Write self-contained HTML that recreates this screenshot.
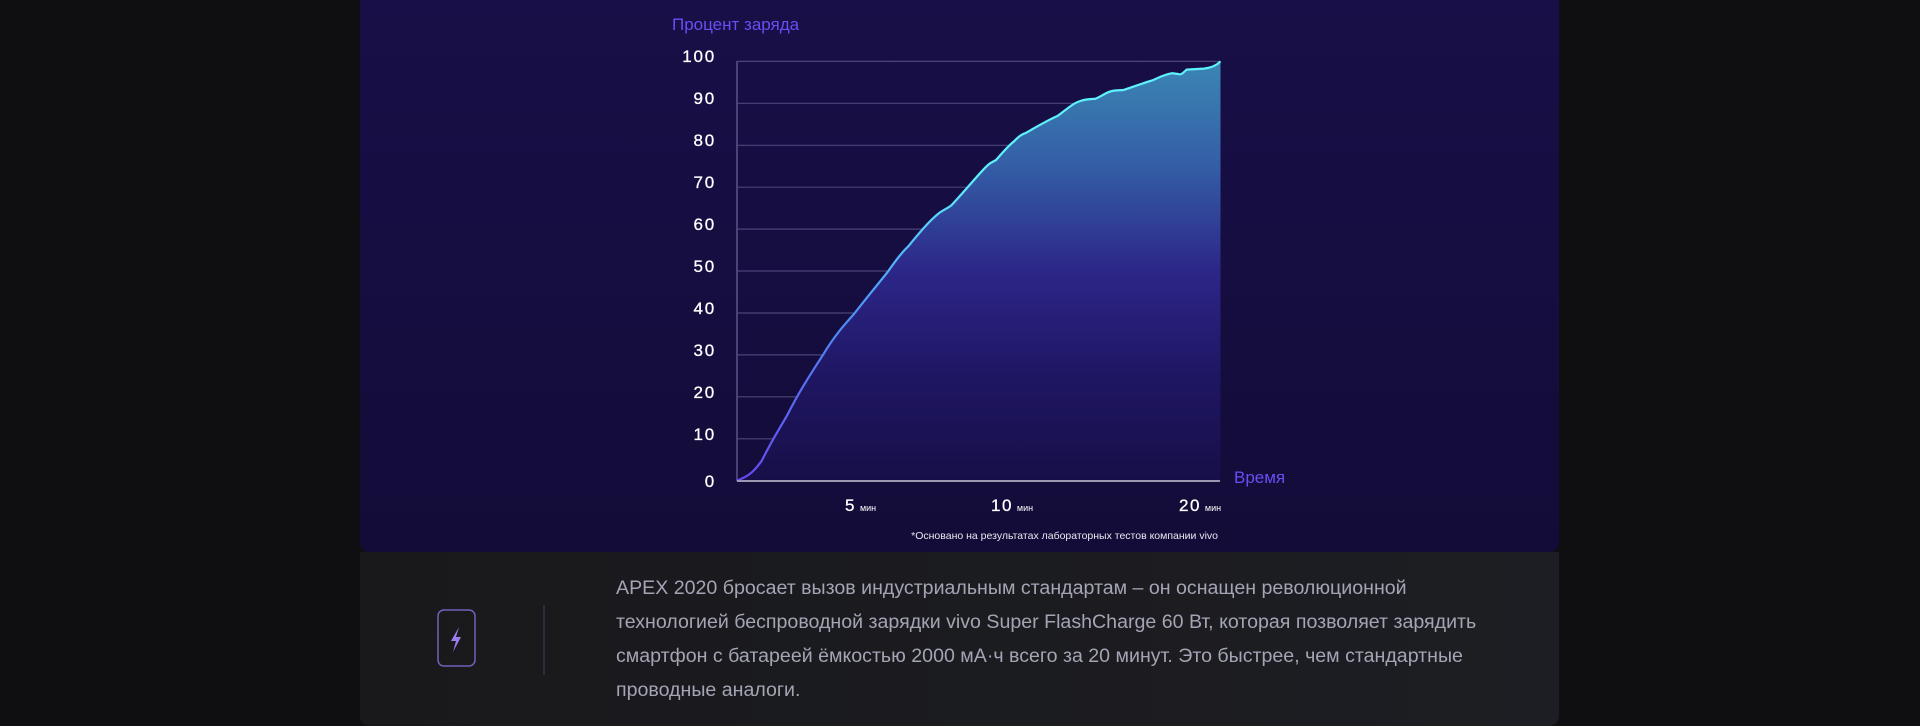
<!DOCTYPE html>
<html><head><meta charset="utf-8"><style>
html,body{margin:0;padding:0;background:#0f0f11;width:1920px;height:726px;overflow:hidden}
svg{display:block}
.t{font-family:"Liberation Sans",sans-serif}
</style></head><body>
<svg width="1920" height="726" viewBox="0 0 1920 726" xmlns="http://www.w3.org/2000/svg">
<defs>
<linearGradient id="bg" x1="0" y1="0" x2="0" y2="1">
<stop offset="0" stop-color="#180f48"/><stop offset="1" stop-color="#130c38"/></linearGradient>
<linearGradient id="fill" x1="0" y1="61" x2="0" y2="481" gradientUnits="userSpaceOnUse">
<stop offset="0" stop-color="#3b86b4"/><stop offset="0.25" stop-color="#345ea6"/><stop offset="0.5" stop-color="#2c2688"/><stop offset="0.75" stop-color="#1f1663"/><stop offset="1" stop-color="#170f48"/></linearGradient>
<linearGradient id="ln" x1="736" y1="480" x2="1000" y2="200" gradientUnits="userSpaceOnUse">
<stop offset="0" stop-color="#6a45f0"/><stop offset="0.5" stop-color="#4d8cf5"/><stop offset="1" stop-color="#5ef2ff"/></linearGradient>
<linearGradient id="bot" x1="0" y1="0" x2="1" y2="0">
<stop offset="0" stop-color="#19191c"/><stop offset="1" stop-color="#1d1e23"/></linearGradient>
</defs>
<rect x="360" y="-10" width="1199" height="562" rx="10" fill="url(#bg)"/>
<path d="M360 552 H1559 V716 a10 10 0 0 1 -10 10 H370 a10 10 0 0 1 -10 -10 Z" fill="url(#bot)"/>
<g stroke="#4a4478" stroke-width="1.2">
<line x1="737" y1="61.4" x2="1220" y2="61.4"/><line x1="737" y1="103.3" x2="1220" y2="103.3"/>
<line x1="737" y1="145.3" x2="1220" y2="145.3"/><line x1="737" y1="187.2" x2="1220" y2="187.2"/>
<line x1="737" y1="229.1" x2="1220" y2="229.1"/><line x1="737" y1="271" x2="1220" y2="271"/>
<line x1="737" y1="313" x2="1220" y2="313"/><line x1="737" y1="354.9" x2="1220" y2="354.9"/>
<line x1="737" y1="396.8" x2="1220" y2="396.8"/><line x1="737" y1="438.8" x2="1220" y2="438.8"/>
</g>
<line x1="737" y1="61" x2="737" y2="481" stroke="#5a5588" stroke-width="1.5"/>
<path d="M736.6 480.7 C750 476 755 470 761.8 460.7 C772 440 780 428 787.7 414.3 C800 390 812 372 823.8 353.6 C835 335 845 324 853.7 314.3 C868 296 878 284 888.1 271.4 C896 260 902 252 908.2 246.4 C920 232 930 220 939.8 212.5 C945 209 948 208 951.3 205.4 C962 194 972 182 980 173.2 C985 168 988 164 991.5 162.5 L996.1 160 C1003 152 1008 146 1014.4 141 C1018 137 1022 134 1025.9 132.9 C1038 126 1048 120 1057.5 116 C1066 110 1073 103 1080.4 101 C1086 99 1090 99 1094.8 98.9 C1101 97 1106 92 1112 91 C1117 90 1120 90.5 1123.5 90 C1133 87 1143 83 1152.2 80.4 C1160 77 1166 74 1172.3 73.2 L1178 74 C1181 75 1182 74 1186.6 69.6 L1203.9 68.6 C1210 68 1216 66 1220.5 61.4 L1220.5 481 L736.6 481 Z" fill="url(#fill)"/>
<path d="M736.6 480.7 C750 476 755 470 761.8 460.7 C772 440 780 428 787.7 414.3 C800 390 812 372 823.8 353.6 C835 335 845 324 853.7 314.3 C868 296 878 284 888.1 271.4 C896 260 902 252 908.2 246.4 C920 232 930 220 939.8 212.5 C945 209 948 208 951.3 205.4 C962 194 972 182 980 173.2 C985 168 988 164 991.5 162.5 L996.1 160 C1003 152 1008 146 1014.4 141 C1018 137 1022 134 1025.9 132.9 C1038 126 1048 120 1057.5 116 C1066 110 1073 103 1080.4 101 C1086 99 1090 99 1094.8 98.9 C1101 97 1106 92 1112 91 C1117 90 1120 90.5 1123.5 90 C1133 87 1143 83 1152.2 80.4 C1160 77 1166 74 1172.3 73.2 L1178 74 C1181 75 1182 74 1186.6 69.6 L1203.9 68.6 C1210 68 1216 66 1220.5 61.4" fill="none" stroke="url(#ln)" stroke-width="2.2"/>
<line x1="737" y1="481" x2="1220" y2="481" stroke="#9a98b0" stroke-width="2"/>
<g class="t" fill="#ffffff" font-size="17" text-anchor="end" letter-spacing="1.8" stroke="#ffffff" stroke-width="0.3">
<text x="716" y="62">100</text><text x="716" y="104">90</text><text x="716" y="146">80</text>
<text x="716" y="188">70</text><text x="716" y="230">60</text><text x="716" y="272">50</text>
<text x="716" y="314">40</text><text x="716" y="356">30</text><text x="716" y="398">20</text>
<text x="716" y="440">10</text><text x="716" y="487">0</text>
</g>
<text class="t" x="672" y="30" fill="#6b4df5" font-size="17">Процент заряда</text>
<text class="t" x="1234" y="483" fill="#6b4df5" font-size="17">Время</text>
<g class="t" fill="#ffffff">
<text x="845" y="511" font-size="17" letter-spacing="1.5" stroke="#fff" stroke-width="0.3">5<tspan font-size="9" dx="4" stroke-width="0" letter-spacing="0">мин</tspan></text>
<text x="991" y="511" font-size="17" letter-spacing="1.5" stroke="#fff" stroke-width="0.3">10<tspan font-size="9" dx="4" stroke-width="0" letter-spacing="0">мин</tspan></text>
<text x="1179" y="511" font-size="17" letter-spacing="1.5" stroke="#fff" stroke-width="0.3">20<tspan font-size="9" dx="4" stroke-width="0" letter-spacing="0">мин</tspan></text>
<text x="1218" y="539" font-size="10.5" text-anchor="end" fill="#e8e8f0">*Основано на результатах лабораторных тестов компании vivo</text>
</g>
<rect x="438" y="610" width="37" height="56" rx="6" fill="none" stroke="#6f62b8" stroke-width="1.5"/>
<path d="M459 627 L451 641 L456 641 L453 652 L461 637 L456 637 Z" fill="#9b7cf0"/>
<line x1="544" y1="605" x2="544" y2="675" stroke="#3a3a55" stroke-width="1.2"/>
<g class="t" fill="#a4a4b4" font-size="19.6">
<text x="616" y="594">APEX 2020 бросает вызов индустриальным стандартам – он оснащен революционной</text>
<text x="616" y="628">технологией беспроводной зарядки vivo Super FlashCharge 60 Вт, которая позволяет зарядить</text>
<text x="616" y="662">смартфон с батареей ёмкостью 2000 мА·ч всего за 20 минут. Это быстрее, чем стандартные</text>
<text x="616" y="696">проводные аналоги.</text>
</g>
</svg>
</body></html>
